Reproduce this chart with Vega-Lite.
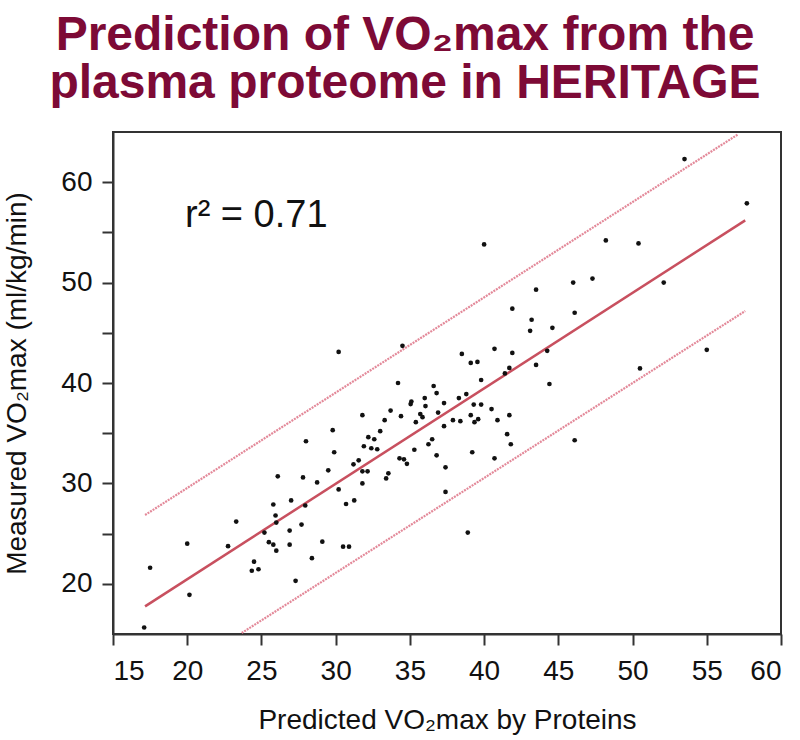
{
  "$schema": "https://vega.github.io/schema/vega-lite/v6.json",
  "autosize": {"type": "none"},
  "padding": {"left": 113, "top": 132, "right": 19, "bottom": 106},
  "width": 668,
  "height": 502,
  "background": "white",
  "title": {
    "text": ["Prediction of VO₂max from the", "plasma proteome in HERITAGE"],
    "font": "Liberation Sans",
    "fontSize": 48,
    "fontWeight": "bold",
    "color": "#7D0A36",
    "lineHeight": 48,
    "anchor": "middle",
    "frame": "group",
    "dx": -42,
    "offset": 22
  },
  "config": {
    "view": {"stroke": "#333333", "strokeWidth": 2},
    "axis": {
      "labelFont": "Liberation Sans",
      "labelFontSize": 28,
      "labelColor": "#111111",
      "titleFont": "Liberation Sans",
      "titleFontSize": 28,
      "titleFontWeight": "normal",
      "titleColor": "#111111",
      "domainColor": "#333333",
      "domainWidth": 2,
      "tickColor": "#333333",
      "tickWidth": 2,
      "tickSize": 11,
      "grid": false
    }
  },
  "datasets": {
    "points": [
      {"pred": 30.2, "meas": 43.1}, {"pred": 34.5, "meas": 43.7},
      {"pred": 53.5, "meas": 62.3}, {"pred": 57.7, "meas": 57.9},
      {"pred": 40.0, "meas": 53.8}, {"pred": 48.2, "meas": 54.2},
      {"pred": 50.4, "meas": 53.9}, {"pred": 43.5, "meas": 49.3},
      {"pred": 46.0, "meas": 50.0}, {"pred": 47.3, "meas": 50.4},
      {"pred": 52.1, "meas": 50.0}, {"pred": 41.9, "meas": 47.4},
      {"pred": 43.2, "meas": 46.3}, {"pred": 43.1, "meas": 45.2},
      {"pred": 46.1, "meas": 47.0}, {"pred": 44.6, "meas": 45.5},
      {"pred": 38.5, "meas": 42.9}, {"pred": 39.1, "meas": 42.0},
      {"pred": 39.55, "meas": 42.1}, {"pred": 40.7, "meas": 43.4},
      {"pred": 41.9, "meas": 43.0}, {"pred": 44.25, "meas": 43.2},
      {"pred": 55.0, "meas": 43.3}, {"pred": 41.7, "meas": 41.5},
      {"pred": 43.5, "meas": 41.8}, {"pred": 50.5, "meas": 41.45},
      {"pred": 41.4, "meas": 40.95}, {"pred": 36.6, "meas": 39.7},
      {"pred": 36.8, "meas": 39.0}, {"pred": 39.8, "meas": 40.3},
      {"pred": 44.4, "meas": 39.9}, {"pred": 37.3, "meas": 38.0},
      {"pred": 38.3, "meas": 38.5}, {"pred": 38.8, "meas": 38.9},
      {"pred": 39.3, "meas": 37.85}, {"pred": 39.8, "meas": 37.85},
      {"pred": 36.9, "meas": 37.05}, {"pred": 39.1, "meas": 36.8},
      {"pred": 40.5, "meas": 37.4}, {"pred": 41.7, "meas": 36.8},
      {"pred": 37.9, "meas": 36.3}, {"pred": 38.4, "meas": 36.2},
      {"pred": 39.35, "meas": 36.1}, {"pred": 39.6, "meas": 36.4},
      {"pred": 40.9, "meas": 36.3}, {"pred": 37.3, "meas": 35.7},
      {"pred": 36.5, "meas": 34.4}, {"pred": 41.55, "meas": 34.9},
      {"pred": 41.8, "meas": 33.9}, {"pred": 36.8, "meas": 32.8},
      {"pred": 39.2, "meas": 33.1}, {"pred": 40.7, "meas": 32.5},
      {"pred": 46.1, "meas": 34.3}, {"pred": 37.4, "meas": 31.6},
      {"pred": 37.4, "meas": 29.15}, {"pred": 38.9, "meas": 25.1},
      {"pred": 34.2, "meas": 40.0}, {"pred": 35.1, "meas": 38.15},
      {"pred": 35.05, "meas": 37.9}, {"pred": 36.0, "meas": 38.5},
      {"pred": 36.05, "meas": 37.7}, {"pred": 33.7, "meas": 37.25},
      {"pred": 34.4, "meas": 36.7}, {"pred": 35.7, "meas": 36.9},
      {"pred": 35.85, "meas": 36.6}, {"pred": 33.3, "meas": 36.3},
      {"pred": 35.4, "meas": 36.1}, {"pred": 31.8, "meas": 36.8},
      {"pred": 29.8, "meas": 35.3}, {"pred": 33.0, "meas": 35.2},
      {"pred": 32.2, "meas": 34.6}, {"pred": 32.6, "meas": 34.4},
      {"pred": 28.0, "meas": 34.2}, {"pred": 31.9, "meas": 33.7},
      {"pred": 32.4, "meas": 33.5}, {"pred": 32.8, "meas": 33.4},
      {"pred": 35.3, "meas": 33.35}, {"pred": 36.25, "meas": 33.9},
      {"pred": 29.9, "meas": 33.1}, {"pred": 34.3, "meas": 32.5},
      {"pred": 34.6, "meas": 32.4}, {"pred": 34.8, "meas": 31.95},
      {"pred": 31.2, "meas": 31.9}, {"pred": 31.55, "meas": 32.3},
      {"pred": 29.5, "meas": 31.3}, {"pred": 31.8, "meas": 31.2},
      {"pred": 32.15, "meas": 31.2}, {"pred": 26.1, "meas": 30.7},
      {"pred": 27.8, "meas": 30.6}, {"pred": 28.75, "meas": 30.1},
      {"pred": 31.8, "meas": 30.0}, {"pred": 33.4, "meas": 30.5},
      {"pred": 33.55, "meas": 31.0}, {"pred": 30.2, "meas": 29.4},
      {"pred": 30.7, "meas": 27.95}, {"pred": 31.25, "meas": 28.3},
      {"pred": 25.8, "meas": 27.9}, {"pred": 27.0, "meas": 28.3},
      {"pred": 27.95, "meas": 27.8}, {"pred": 25.95, "meas": 26.8},
      {"pred": 26.0, "meas": 26.1}, {"pred": 23.3, "meas": 26.2},
      {"pred": 27.7, "meas": 25.9}, {"pred": 25.2, "meas": 25.1},
      {"pred": 26.9, "meas": 25.3}, {"pred": 25.5, "meas": 24.15},
      {"pred": 25.8, "meas": 23.9}, {"pred": 26.0, "meas": 23.3},
      {"pred": 26.9, "meas": 23.9}, {"pred": 29.1, "meas": 24.2},
      {"pred": 30.5, "meas": 23.7}, {"pred": 30.9, "meas": 23.7},
      {"pred": 22.75, "meas": 23.75}, {"pred": 20.0, "meas": 24.0},
      {"pred": 24.5, "meas": 22.2}, {"pred": 24.35, "meas": 21.3},
      {"pred": 24.8, "meas": 21.45}, {"pred": 28.4, "meas": 22.55},
      {"pred": 17.5, "meas": 21.6}, {"pred": 27.3, "meas": 20.3},
      {"pred": 20.15, "meas": 18.9}, {"pred": 17.1, "meas": 15.65}
    ],
    "lines": [
      {"line": "fit", "pred": 17.16, "meas": 17.75},
      {"line": "fit", "pred": 57.59, "meas": 56.2},
      {"line": "upper", "pred": 17.16, "meas": 26.85},
      {"line": "upper", "pred": 57.1, "meas": 64.76},
      {"line": "lower", "pred": 23.67, "meas": 15.1},
      {"line": "lower", "pred": 57.59, "meas": 47.17}
    ],
    "annot": [
      {"label": "r² = 0.71", "pred": 19.85, "meas": 55.5}
    ]
  },
  "encoding": {
    "x": {
      "field": "pred", "type": "quantitative",
      "scale": {"domain": [15, 60], "nice": false, "zero": false},
      "axis": {
        "title": "Predicted VO₂max by Proteins",
        "values": [15, 20, 25, 30, 35, 40, 45, 50, 55, 60],
        "labelPadding": 12,
        "titlePadding": 21
      }
    },
    "y": {
      "field": "meas", "type": "quantitative",
      "scale": {"domain": [15, 65], "nice": false, "zero": false},
      "axis": {
        "title": "Measured VO₂max (ml/kg/min)",
        "values": [20, 25, 30, 35, 40, 45, 50, 55, 60],
        "labelExpr": "datum.value % 10 === 0 ? datum.label : ''",
        "labelPadding": 10,
        "titlePadding": 29
      }
    }
  },
  "layer": [
    {
      "data": {"name": "lines"},
      "transform": [{"filter": "datum.line !== 'fit'"}],
      "mark": {"type": "line", "color": "#E07C8E", "strokeWidth": 2.2, "strokeDash": [2, 1], "opacity": 0.9},
      "encoding": {"detail": {"field": "line"}}
    },
    {
      "data": {"name": "lines"},
      "transform": [{"filter": "datum.line === 'fit'"}],
      "mark": {"type": "line", "color": "#C8505F", "strokeWidth": 2.5},
      "encoding": {}
    },
    {
      "data": {"name": "points"},
      "mark": {"type": "circle", "color": "#111111", "opacity": 1, "size": 22},
      "encoding": {}
    },
    {
      "data": {"name": "annot"},
      "mark": {"type": "text", "font": "Liberation Sans", "fontSize": 38, "align": "left", "baseline": "alphabetic", "color": "#111111"},
      "encoding": {
        "text": {"field": "label", "type": "nominal"}
      }
    }
  ]
}
